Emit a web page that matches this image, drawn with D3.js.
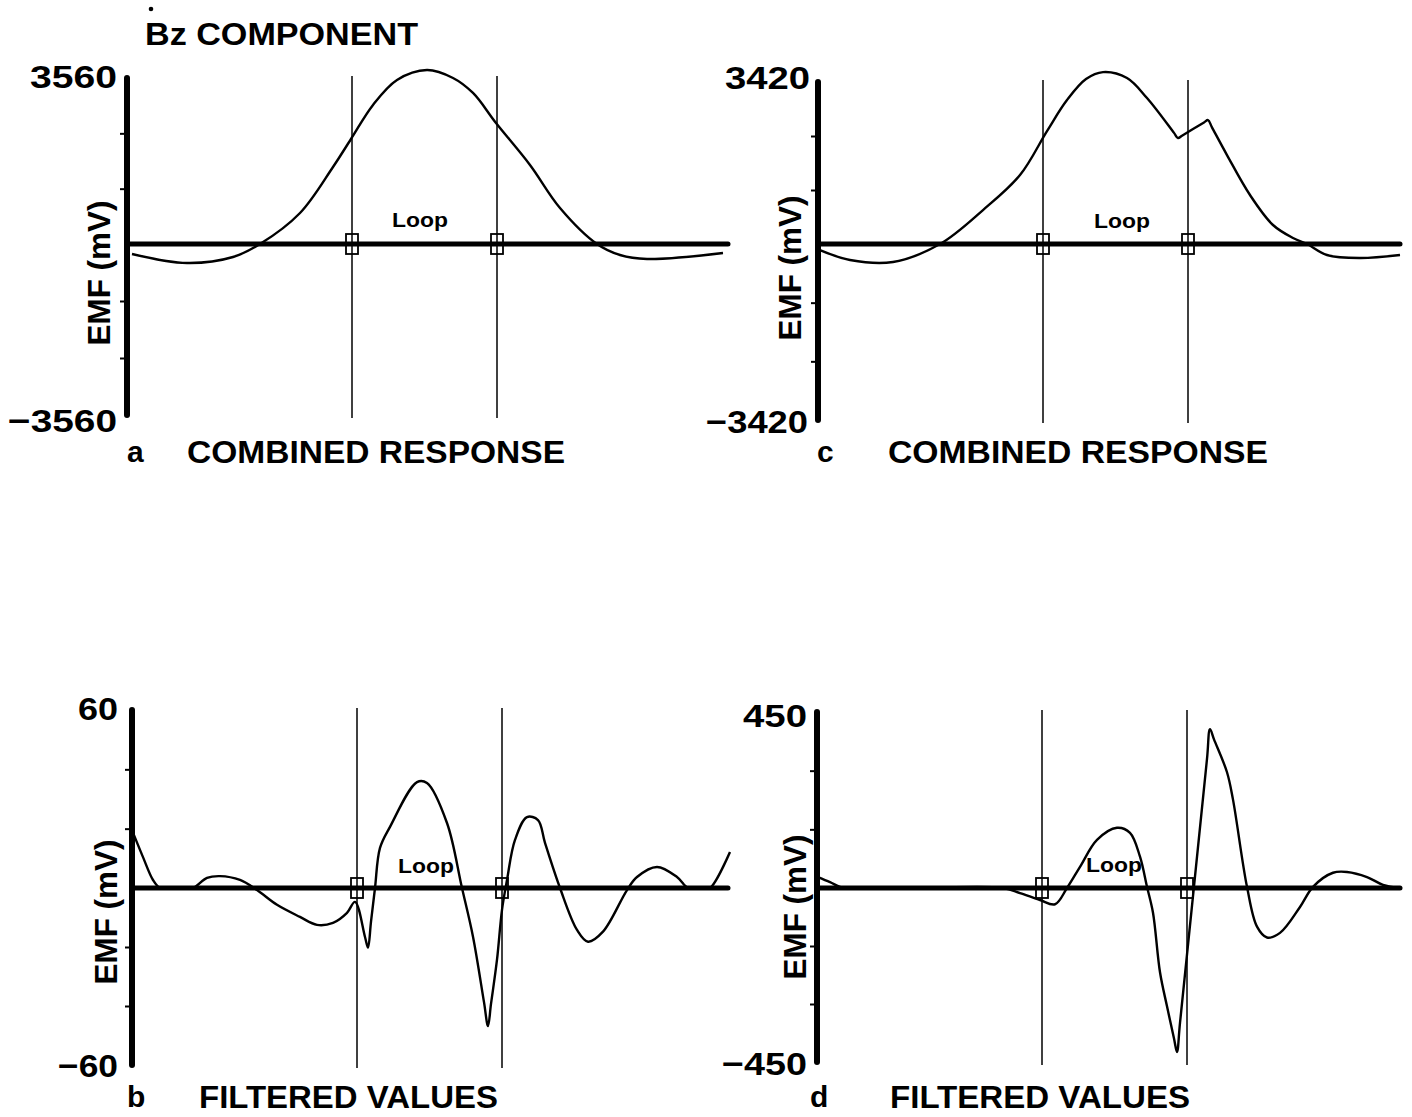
<!DOCTYPE html>
<html>
<head>
<meta charset="utf-8">
<script src="https://cdn.jsdelivr.net/npm/d3@7"></script>
<style>
  html, body { margin: 0; padding: 0; background: #fff; }
  svg text { font-family: "Liberation Sans", Arial, Helvetica, sans-serif; font-weight: bold; fill: #000; }
</style>
</head>
<body>
<svg id="fig" width="1412" height="1117"></svg>
<script>
// Traverse position (arbitrary distance units) of the two loop edges
const loopEdges = [225, 370];

// Full-scale EMF (mV) of each panel
const rangeA = 3560;
const rangeB = 60;
const rangeC = 3420;
const rangeD = 450;

// [position, EMF mV] readings along the traverse
const combinedA = [
  [5, -208], [60, -396], [106, -271], [133, 0], [173, 665], [206, 1652], [224, 2252],
  [246, 2982], [270, 3518], [300, 3732], [326, 3561], [346, 3239], [369, 2595],
  [403, 1695], [433, 772], [470, 0], [493, -229], [520, -312], [596, -187]
];
const combinedC = [
  [2, -117], [32, -311], [75, -350], [122, 0], [165, 717], [202, 1456], [229, 2384],
  [249, 3038], [268, 3482], [285, 3629], [309, 3503], [329, 3081], [356, 2346],
  [360, 2237], [364, 2287], [386, 2566], [390, 2616], [394, 2461], [409, 1878],
  [432, 1034], [455, 401], [475, 127], [489, 0], [509, -214], [542, -272], [582, -214]
];
const filteredB = [
  [0, 19.5], [11, 10.4], [21, 2.7], [28, 0], [38, 0], [50, 0], [61, 0], [75, 3.4],
  [88, 4.0], [108, 2.7],
  [125, -0.7], [145, -5.7], [168, -9.8], [185, -12.5], [201, -11.8], [215, -8.4],
  [223, -4.7], [233, -16.6], [236, -20.2], [239, -11.4], [243, 0], [248, 13.5],
  [258, 20.6], [285, 35.7], [295, 35.4], [315, 21.9], [330, 0], [341, -16.5],
  [352, -38.7], [356, -46.8], [359, -39.3], [365, -24.3], [370, -7.4], [375, 2.7],
  [383, 16.2], [395, 23.9], [406, 22.9], [413, 15.2], [428, 0], [445, -14.2],
  [456, -18.2], [471, -14.8], [495, -0.7], [505, 3.7], [525, 7.1], [545, 3.7],
  [556, 0], [564, 0], [572, 0], [578, 0], [598, 12.1]
];
const filteredD = [
  [1, 28], [13, 15], [26, 0], [40, 0], [100, 0], [186, 0], [203, -13], [223, -31], [238, -42],
  [250, 0], [263, 54], [280, 123], [300, 154], [313, 141], [323, 80], [330, 3],
  [336, -64], [343, -218], [350, -306], [357, -389], [360, -424], [363, -349],
  [390, 330], [393, 406], [397, 380], [410, 296],
  [416, 226], [430, 3], [440, -100], [450, -128], [463, -116], [483, -49], [496, 3],
  [516, 39], [530, 41], [550, 28], [566, 8], [583, 0]
];

// Text
const figureTitle = "Bz COMPONENT";
const yAxisTitle = "EMF (mV)";
const loopText = "Loop";
const captionTop = "COMBINED RESPONSE";
const captionBottom = "FILTERED VALUES";
const panelLetters = ["a", "b", "c", "d"];

// Panel layout (pixels)
const panels = [
  { letter: panelLetters[0], data: combinedA, max: rangeA, caption: captionTop,
    x0: 127, len: 601, top: 78, zero: 244, bottom: 415,
    topLab: [117, 88, 87], botLab: [117, 432, 109],
    yTitle: [110, 273], letterPos: [127, 462], cap: [187, 463, 378], loopLab: [293, 227] },
  { letter: panelLetters[2], data: combinedC, max: rangeC, caption: captionTop,
    x0: 818, len: 582, top: 82, zero: 244, bottom: 420,
    topLab: [810, 89, 85], botLab: [808, 433, 102],
    yTitle: [801, 268], letterPos: [817, 462], cap: [888, 463, 380], loopLab: [304, 228] },
  { letter: panelLetters[1], data: filteredB, max: rangeB, caption: captionBottom,
    x0: 132, len: 596, top: 710, zero: 888, bottom: 1065,
    topLab: [118, 720, 40], botLab: [118, 1077, 60],
    yTitle: [117, 912], letterPos: [127, 1107], cap: [199, 1108, 299], loopLab: [294, 873] },
  { letter: panelLetters[3], data: filteredD, max: rangeD, caption: captionBottom,
    x0: 817, len: 583, top: 712, zero: 888, bottom: 1062,
    topLab: [807, 727, 64], botLab: [807, 1075, 85],
    yTitle: [806, 907], letterPos: [810, 1107], cap: [890, 1108, 300], loopLab: [297, 872] }
];

const svg = d3.select("#fig");
const minus = v => (v < 0 ? "\u2212" : "") + Math.abs(v);

// Figure title with the time-derivative dot over the B
svg.append("text")
  .attr("x", 145).attr("y", 45)
  .attr("font-size", 32)
  .attr("textLength", 273).attr("lengthAdjust", "spacingAndGlyphs")
  .text(figureTitle);
svg.append("circle").attr("cx", 151).attr("cy", 9).attr("r", 2.3).attr("fill", "#000");

panels.forEach(p => {
  const g = svg.append("g");
  const x = d3.scaleLinear().domain([0, 600]).range([p.x0, p.x0 + 600]);
  const y = d3.scaleLinear().domain([-p.max, 0, p.max]).range([p.bottom, p.zero, p.top]);

  // Minor ticks on the EMF axis
  const axis = d3.axisLeft(y)
    .tickValues([-2 * p.max / 3, -p.max / 3, p.max / 3, 2 * p.max / 3])
    .tickSize(7)
    .tickFormat("");
  const ag = g.append("g").attr("transform", `translate(${p.x0},0)`).call(axis);
  ag.select(".domain").remove();
  ag.selectAll(".tick line").attr("stroke", "#000").attr("stroke-width", 2);

  // Loop edge verticals
  g.selectAll("line.edge").data(loopEdges).join("line")
    .attr("class", "edge")
    .attr("x1", d => x(d)).attr("x2", d => x(d))
    .attr("y1", y(p.max) - 2).attr("y2", y(-p.max) + 3)
    .attr("stroke", "#000").attr("stroke-width", 1.5);

  // Heavy EMF axis and zero line
  g.append("line")
    .attr("x1", p.x0).attr("x2", p.x0)
    .attr("y1", y(p.max)).attr("y2", y(-p.max))
    .attr("stroke", "#000").attr("stroke-width", 6).attr("stroke-linecap", "round");
  g.append("line")
    .attr("x1", x(0)).attr("x2", x(p.len))
    .attr("y1", y(0)).attr("y2", y(0))
    .attr("stroke", "#000").attr("stroke-width", 5).attr("stroke-linecap", "round");

  // Response curve
  const line = d3.line()
    .x(d => x(d[0]))
    .y(d => y(d[1]))
    .curve(d3.curveCatmullRom.alpha(0.5));
  g.append("path")
    .datum(p.data)
    .attr("d", line)
    .attr("fill", "none")
    .attr("stroke", "#000")
    .attr("stroke-width", 2.4)
    .attr("stroke-linejoin", "round");

  // Loop edge markers on the zero line
  g.selectAll("rect.mark").data(loopEdges).join("rect")
    .attr("class", "mark")
    .attr("x", d => x(d) - 6).attr("y", y(0) - 10)
    .attr("width", 12).attr("height", 20)
    .attr("fill", "none").attr("stroke", "#000").attr("stroke-width", 1.8);

  g.append("text")
    .attr("x", x(p.loopLab[0])).attr("y", p.loopLab[1])
    .attr("text-anchor", "middle")
    .attr("font-size", 20)
    .attr("textLength", 56).attr("lengthAdjust", "spacingAndGlyphs")
    .text(loopText);

  // Full-scale labels
  g.append("text")
    .attr("x", p.topLab[0]).attr("y", p.topLab[1])
    .attr("text-anchor", "end").attr("font-size", 32)
    .attr("textLength", p.topLab[2]).attr("lengthAdjust", "spacingAndGlyphs")
    .text(minus(p.max));
  g.append("text")
    .attr("x", p.botLab[0]).attr("y", p.botLab[1])
    .attr("text-anchor", "end").attr("font-size", 32)
    .attr("textLength", p.botLab[2]).attr("lengthAdjust", "spacingAndGlyphs")
    .text(minus(-p.max));

  // EMF axis title
  g.append("text")
    .attr("transform", `translate(${p.yTitle[0]},${p.yTitle[1]}) rotate(-90)`)
    .attr("text-anchor", "middle").attr("font-size", 32)
    .attr("textLength", 145).attr("lengthAdjust", "spacingAndGlyphs")
    .text(yAxisTitle);

  // Panel letter and caption
  g.append("text")
    .attr("x", p.letterPos[0]).attr("y", p.letterPos[1])
    .attr("font-size", 30)
    .text(p.letter);
  g.append("text")
    .attr("x", p.cap[0]).attr("y", p.cap[1])
    .attr("font-size", 32)
    .attr("textLength", p.cap[2]).attr("lengthAdjust", "spacingAndGlyphs")
    .text(p.caption);
});
</script>
</body>
</html>
